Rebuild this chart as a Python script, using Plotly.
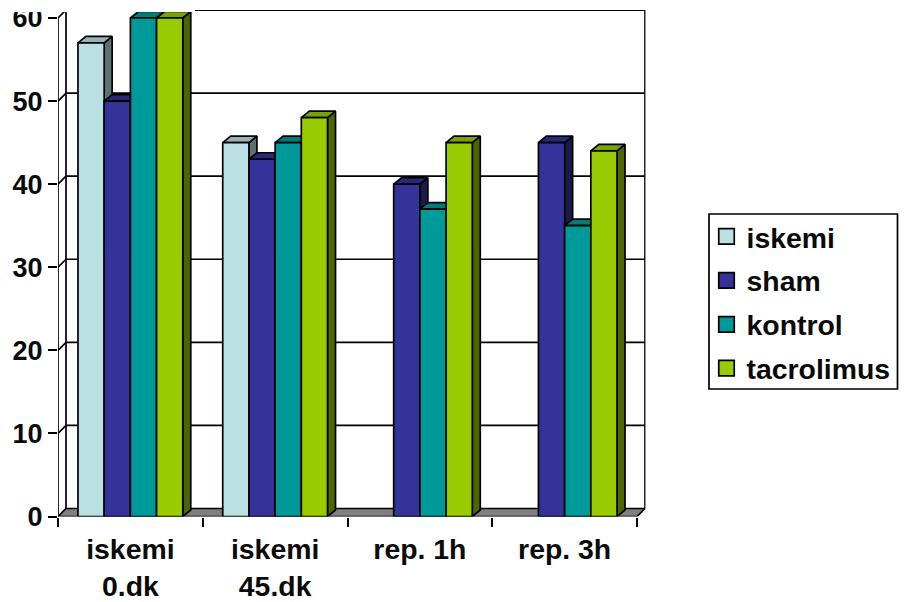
import plotly.graph_objects as go

# Chart data
categories = ["iskemi<br>0.dk", "iskemi<br>45.dk", "rep. 1h", "rep. 3h"]
series_names = ["iskemi", "sham", "kontrol", "tacrolimus"]
iskemi = [57, 45, None, None]
sham = [50, 43, 40, 45]
kontrol = [60, 45, 37, 35]
tacrolimus = [60, 48, 45, 44]
value_ticks = [0, 10, 20, 30, 40, 50, 60]

# Face colours per series: front, top, side
front_colors = ["#BBE0E3", "#333399", "#009999", "#99CC00"]
top_colors = ["#96B3B6", "#29297A", "#007A7A", "#7AA300"]
side_colors = ["#5E7072", "#1A1A4D", "#004D4D", "#4D6600"]

W, H = 905, 602
LEFT, RIGHT_WALL, BASE, TOP = 58, 645.5, 516.5, 10
PX_PER_CAT = (637 - 58) / 4
PX_PER_UNIT = (516.5 - 18) / 60
LINE = 1.7
NUM_FONT = dict(family="Liberation Sans", size=27, color="#0a0a0a", weight="bold")
TEXT_FONT = dict(family="Liberation Sans", size=28.4, color="#0a0a0a", weight="bold")

# Depth of the wall and of each bar, converted to axis units
wall_dx, wall_dy = 8 / PX_PER_CAT, 8 / PX_PER_UNIT
bar_dx, bar_dy = 8 / PX_PER_CAT, 6.5 / PX_PER_UNIT
gap, bar_w = 0.138, 0.181


def polygons(shapes):
    xs, ys = [], []
    for poly in shapes:
        xs += [p[0] for p in poly] + [poly[0][0], None]
        ys += [p[1] for p in poly] + [poly[0][1], None]
    return xs, ys


def face(shapes, color, width=LINE):
    xs, ys = polygons(shapes)
    return go.Scatter(
        x=xs, y=ys, mode="lines", fill="toself", fillcolor=color,
        line=dict(color="black", width=width, shape="linear"),
        hoverinfo="skip", showlegend=False,
    )


def rule(xs, ys, color="black", width=LINE):
    return go.Scatter(x=xs, y=ys, mode="lines", line=dict(color=color, width=width),
                      hoverinfo="skip", showlegend=False)


fig = go.Figure()
n = len(categories)

# Back wall, horizontal rules and the left wall
top_value = value_ticks[-1]
for t in value_ticks[1:]:
    fig.add_trace(rule([wall_dx, n + wall_dx], [t + wall_dy] * 2, width=LINE if t < top_value else 2.2))
fig.add_trace(rule([n + wall_dx] * 2, [wall_dy, top_value + wall_dy]))
fig.add_trace(rule([0, 0], [0, top_value]))
fig.add_trace(rule([wall_dx, wall_dx], [wall_dy, top_value + wall_dy]))
for t in value_ticks[1:]:
    fig.add_trace(rule([0, wall_dx], [t, t + wall_dy]))

# Floor
fig.add_trace(face([[(0, 0), (wall_dx, wall_dy), (n + wall_dx, wall_dy), (n, 0)]], "#808080"))

# Bars: side, top and front faces of each series, left to right
for s, values in enumerate([iskemi, sham, kontrol, tacrolimus]):
    sides, tops, fronts = [], [], []
    for c, v in enumerate(values):
        if v is None:
            continue
        x0 = c + gap + s * bar_w
        x1 = x0 + bar_w
        fronts.append([(x0, 0), (x0, v), (x1, v), (x1, 0)])
        tops.append([(x0, v), (x0 + bar_dx, v + bar_dy), (x1 + bar_dx, v + bar_dy), (x1, v)])
        sides.append([(x1, 0), (x1, v), (x1 + bar_dx, v + bar_dy), (x1 + bar_dx, bar_dy)])
    fig.add_trace(face(sides, side_colors[s]))
    fig.add_trace(face(tops, top_colors[s]))
    fig.add_trace(face(fronts, front_colors[s]))

# Legend entries
for s, name in enumerate(series_names):
    fig.add_trace(go.Scatter(
        x=[None], y=[None], mode="markers", name=name, legendgroup=name,
        marker=dict(symbol="square", size=15.5, color=front_colors[s], line=dict(color="black", width=LINE)),
    ))

plot_w = RIGHT_WALL - LEFT
plot_h = BASE - TOP


def paper_x(px):
    return px / W


def paper_y(py):
    return 1 - py / H


fig.update_layout(
    width=W, height=H,
    margin=dict(l=0, r=0, t=0, b=0, pad=0),
    paper_bgcolor="white", plot_bgcolor="rgba(0,0,0,0)",
    font=TEXT_FONT,
    showlegend=True,
    legend=dict(
        x=paper_x(706.5), xanchor="left", y=paper_y(211.5), yanchor="top",
        bgcolor="rgba(0,0,0,0)", borderwidth=0, font=TEXT_FONT,
        tracegroupgap=4, traceorder="grouped", itemclick=False, itemdoubleclick=False,
    ),
    xaxis=dict(
        domain=[paper_x(LEFT), paper_x(RIGHT_WALL)], automargin=False,
        range=[0, plot_w / PX_PER_CAT], showgrid=False, zeroline=False, fixedrange=True,
        tickmode="array", tickvals=[i + 0.5 for i in range(n)], ticktext=categories,
        ticks="", ticklabelstandoff=13, tickfont=TEXT_FONT, showline=False,
        minor=dict(tickmode="array", tickvals=list(range(n + 1)), ticks="outside",
                   ticklen=9, tickwidth=LINE, tickcolor="black", showgrid=False),
    ),
    yaxis=dict(
        domain=[paper_y(BASE), paper_y(TOP)], automargin=False,
        range=[0, plot_h / PX_PER_UNIT], showgrid=False, zeroline=False, fixedrange=True,
        tickmode="array", tickvals=value_ticks, ticks="outside", ticklen=9, tickwidth=LINE,
        tickcolor="black", tickfont=NUM_FONT, showline=False,
    ),
    shapes=[
        # Legend frame
        dict(type="rect", xref="paper", yref="paper", layer="above",
             x0=paper_x(709), x1=paper_x(897.5), y0=paper_y(214), y1=paper_y(389),
             line=dict(color="black", width=LINE), fillcolor="rgba(0,0,0,0)"),
        # Blank strip along the upper-left edge
        dict(type="rect", xref="paper", yref="paper", layer="above",
             x0=0, x1=paper_x(195), y0=paper_y(12), y1=1,
             line=dict(width=0), fillcolor="white"),
    ],
)

fig.write_html("out.html", config=dict(displayModeBar=False))
